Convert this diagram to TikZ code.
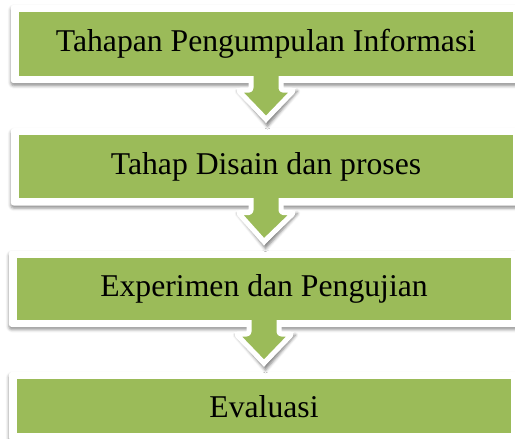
\documentclass[tikz,border=0pt]{standalone}
\usepackage{fontspec}
\setmainfont{Liberation Serif}
\usetikzlibrary{positioning,calc,backgrounds,shadows.blur}
\definecolor{stagegreen}{HTML}{9BBB59}

\tikzset{
  stage/.style={rectangle, fill=stagegreen, inner sep=0pt, minimum width=494pt,
    font=\fontsize{31.7}{38}\selectfont},
  card/.style={fill=white, rounded corners=3pt,
    blur shadow={shadow xshift=0pt, shadow yshift=-2.5pt, shadow blur radius=3pt, shadow opacity=45}},
  headshadow/.style={fill=white, line join=round,
    blur shadow={shadow xshift=1.5pt, shadow yshift=-3pt, shadow blur radius=3pt, shadow opacity=50}},
  stagearrow/.style={draw=white, line width=5pt, fill=stagegreen, rounded corners=2.5pt, line join=round}
}

\begin{document}
\begin{tikzpicture}[x=1pt,y=1pt]
   \useasboundingbox (0,0) rectangle (515,-439);
   \node[stage, minimum height=64pt] (info) at (266,-44) {Tahapan Pengumpulan Informasi};
   \node[stage, minimum height=63pt] (disain) [below=59pt of info] {Tahap Disain dan proses};
   \node[stage, minimum height=62pt] (uji) [below=59pt of disain, xshift=-2pt] {Experimen dan Pengujian};
   \node[stage, minimum height=54pt] (eval) [below=59pt of uji] {Evaluasi};

   \begin{scope}[on background layer]
     % white cards behind the green boxes
     \foreach \n in {info,disain,uji,eval}
       \path[card] ($(\n.north west)+(-8,7)$) rectangle ($(\n.south east)+(8,-7)$);
     % block arrows between the stages
     \foreach \a/\b in {info/disain, disain/uji, uji/eval}{
       \path[headshadow] ($(\a.south)+(-30,-12)$) -- ($(\b.north)+(0,12)$)
         -- ($(\a.south)+(30,-12)$) -- cycle;
       \draw[stagearrow] ($(\a.south)+(-15,8)$) -- ($(\a.south)+(-15,-14)$)
         -- ($(\a.south)+(-28,-14)$) -- ($(\b.north)+(0,16)$)
         -- ($(\a.south)+(28,-14)$) -- ($(\a.south)+(15,-14)$)
         -- ($(\a.south)+(15,8)$) -- cycle;
     }
   \end{scope}
\end{tikzpicture}
\end{document}
